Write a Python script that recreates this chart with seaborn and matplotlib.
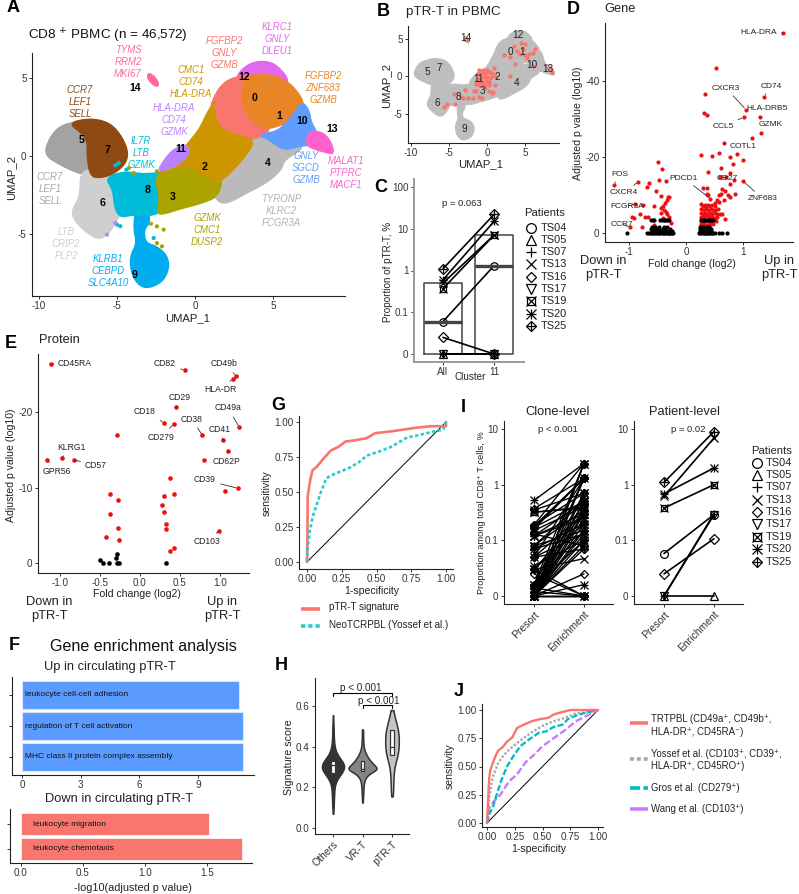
import numpy as np
import pandas as pd
import matplotlib
matplotlib.use("Agg")
import matplotlib.pyplot as plt
import seaborn as sns

W, H = 799, 894
sns.set_theme(style="ticks", rc={
    "axes.linewidth": 0.8, "axes.edgecolor": "#222222",
    "xtick.major.size": 2.4, "ytick.major.size": 2.4,
    "xtick.major.width": 0.7, "ytick.major.width": 0.7,
    "xtick.major.pad": 1.5, "ytick.major.pad": 1.5,
    "xtick.labelsize": 7.1, "ytick.labelsize": 7.1,
    "xtick.color": "#333333", "ytick.color": "#333333",
    "axes.unicode_minus": False,
})
plt.rcParams["font.family"] = ["Liberation Sans", "DejaVu Sans"]

# ---- cluster outlines in UMAP units, listed back to front ----
CLUSTER_5 = [(-9.59, .51), (-9.06, 1.58), (-8.21, 2.12), (-6.6, 2.25), (-5.5, 1), (-6.0, -.9), (-7.03, -1.2),
             (-7.78, -.98), (-8.85, -.45), (-9.49, -.02)]
CLUSTER_6 = [(-7.35, -.9), (-6, -.9), (-4.5, -1.5), (-4.4, -3.5), (-4.79, -3.65), (-5.32, -4.72), (-6.07, -5.4),
             (-6.92, -4.94), (-7.78, -4.08), (-7.88, -3.44), (-7.35, -2.59)]
CLUSTER_7 = [(-8.1, 2.12), (-6.82, 2.4), (-5.64, 2.2), (-4.89, 1.55), (-4.3, .41), (-4.4, -.45), (-5.21, -1.15),
             (-6.07, -1.4), (-6.71, -1.3), (-6.92, -.02), (-6.88, .94), (-7.3, 1.5)]
CLUSTER_9 = [(-3.82, -3.4), (-2.97, -3.4), (-2.9, -4.29), (-3.29, -4.72), (-3.18, -5.58), (-2.44, -5.79), (-1.75, -6.43),
             (-1.68, -7.29), (-2.12, -8.1), (-3.08, -8.5), (-3.7, -8.2), (-4.1, -7.39), (-4.15, -6.43), (-3.72, -5.58),
             (-3.93, -4.72)]
CLUSTER_8 = [(-5.75, -1.41), (-4.57, -.98), (-3.08, -1.2), (-1.5, -.9), (-1.3, -3), (-2.54, -3.78), (-3.29, -3.8),
             (-3.93, -3.75), (-4.79, -3.95), (-5.15, -3.33), (-5.25, -2.16)]
CLUSTER_4 = [(3.0, 1.3), (4.62, 1.6), (5.68, 1.2), (7.18, .62), (5.7, -.24), (5.55, -.88), (4.62, -1.7), (3.33, -2.35),
             (2.48, -2.85), (1.62, -3.1), (1.0, -2.2), (1.2, -.3)]
CLUSTER_12 = [(2.48, 4.6), (2.91, 5.5), (3.76, 6.05), (4.83, 6.05), (5.5, 5.55), (6.0, 4.89), (5.68, 4.4), (3, 4.4)]
CLUSTER_0 = [(.88, 2.54), (1.15, 3.7), (1.84, 4.75), (2.91, 5.15), (4.4, 5.2), (5, 3), (4.8, 1.5), (3.6, 1.0),
             (1.5, 1.0), (.6, 1.5), (.66, 2.12)]
CLUSTER_1 = [(3.12, 5.1), (4.62, 5.25), (5.78, 4.9), (6.55, 4.15), (6.98, 3.4), (6.85, 2.65), (5.9, 2.12), (4.62, 1.7),
             (3.97, 2.01), (3.23, 2.76), (3.01, 3.61)]
CLUSTER_10 = [(6.32, 2.65), (6.86, 3.5), (7.3, 2.97), (7.45, 2.12), (7.8, 1.58), (7.6, .7), (6.75, .65), (5.68, .35),
              (4.83, 1.0), (4.0, 1.37), (5.26, 1.55), (5.9, 2.2)]
CLUSTER_13 = [(7.29, 1.6), (8.1, 1.55), (8.65, 1.05), (8.95, .1), (8.35, .25), (7.61, .45), (7.1, .73)]
CLUSTER_3 = [(-2.65, -1.3), (-1.15, -.5), (.34, -.3), (1.8, -1.2), (1.5, -2.6), (.34, -3.05), (-.94, -3.38),
             (-2.01, -3.72), (-2.44, -3.7), (-2.22, -2.59)]
CLUSTER_2 = [(-.51, .73), (.34, 1.79), (.77, 2.76), (1.2, 3.4), (1.41, 1.9), (2.48, 1.37), (3.76, 1.05), (3.55, .41),
             (2.48, -.88), (1.62, -1.62), (1.2, -1.62), (-.51, -.45), (-1.79, -.98), (-2.44, -1.09), (-1.15, -.02)]
CLUSTER_11 = [(-2.4, -1.0), (-2.01, -.3), (-1.37, .45), (-.51, .78), (-.3, .19), (-.94, -.45), (-1.58, -.8)]
CLUSTER_14 = [(-3.0, 5.35), (-2.54, 5.05), (-2.3, 4.55), (-2.54, 4.45), (-3.05, 4.95)]
cluster_outlines = [CLUSTER_5, CLUSTER_6, CLUSTER_7, CLUSTER_9, CLUSTER_8, CLUSTER_4, CLUSTER_12, CLUSTER_0, CLUSTER_1,
                    CLUSTER_10, CLUSTER_13, CLUSTER_3, CLUSTER_2, CLUSTER_11, CLUSTER_14]
cluster_colors = ["#A3A3A3", "#CFCFCF", "#8E4A12", "#00AEF0", "#00BCD8", "#BABABA", "#E468EE", "#F8766D", "#E88526",
                  "#619CFF", "#FF61CC", "#ABA300", "#CD9600", "#B983FF", "#FF6A98"]
stray_x = [-2.01, -2.44, -2.82, -2.12, -2.44, -3.93, -4.25, -2.44, 1.2, -4.89, -5.11, -4.4, -4.79, -5.0, -2.65, -5.11, -5.64]
stray_y = [-4.72, -4.51, -4.34, -5.79, -5.58, -1.09, -.77, -.98, 3.4, -.45, -.6, -.88, -4.5, -4.4, -5.26, -4.29, -5.04]
stray_color = ["#ABA300"] * 8 + ["#CD9600"] + ["#00BCD8"] * 6 + ["#B983FF"] * 2

# ---- gene labels on the UMAP ----
gene_text = ["TYMS\nRRM2\nMKI67", "FGFBP2\nGNLY\nGZMB", "KLRC1\nGNLY\nDLEU1", "CMC1\nCD74\nHLA-DRA",
             "FGFBP2\nZNF683\nGZMB", "CCR7\nLEF1\nSELL", "HLA-DRA\nCD74\nGZMK", "IL7R\nLTB\nGZMK",
             "CCR7\nLEF1\nSELL", "GNLY\nSGCD\nGZMB", "MALAT1\nPTPRC\nMACF1", "TYRONP\nKLRC2\nFCGR3A",
             "GZMK\nCMC1\nDUSP2", "LTB\nCRIP2\nPLP2", "KLRB1\nCEBPD\nSLC4A10"]
gene_color = ["#FF6A98", "#F8766D", "#E468EE", "#CD9600", "#E88526", "#8E4A12", "#B983FF", "#00BCD8",
              "#A9A9A9", "#619CFF", "#FF61CC", "#B0B0B0", "#ABA300", "#CFCFCF", "#00AEF0"]
gene_px = [(128, 62), (224, 53), (277, 39), (191, 82), (323, 88), (80, 102), (174, 120), (141, 153),
           (50, 189), (306, 168), (346, 173), (281, 211), (207, 230), (66, 244), (108, 271)]
cluster_ids = ["0", "1", "2", "3", "4", "5", "6", "7", "8", "9", "10", "11", "12", "13", "14"]
id_px_a = [(255, 98), (279, 116), (204, 167), (173, 197), (268, 163), (82, 140), (103, 203), (107, 150),
           (148, 190), (135, 275), (302, 121), (181, 149), (244, 77), (332, 129), (135, 88)]
id_px_b = [(510, 52), (522, 52), (497, 77), (482, 91), (517, 83), (427, 72), (437, 103), (439, 68),
           (458, 97), (464, 129), (532, 65), (479, 79), (518, 35), (548, 69), (466, 38)]

# ---- pTR-T cells on the UMAP ----
ptrt_umap_x = [-5.6, -5.3, -4.3, -4.2, -3.4, -2.9, -3.2, -2.5, -1.9, -1.7, -1.4, -1.0, -.6, -.3, .2, .8, 1.0, .6, -1.1, -.8,
               -.4, 0, .4, .7, -1.3, -.9, -.5, 0, .3, -1.5, -1.0, -.6, -.2, .2, .6, -1.2, -.7, -.3, .2, -1.0, -.5, 0,
               .9, 1.0, 3.0, 2.3, 3.0, 3.6, 3.9, 4.5, 5.0, 4.4, 5.0, 5.5, 6.0, 6.3, 3.7, 6.0, 8.2, 8.5, -2.9, -2.6, 5.3, 4.8]
ptrt_umap_y = [-4.1, -3.7, -2.3, -3.7, -2.8, -1.8, -2.9, -2.9, -2.9, -2.0, -1.9, -2.8, -2.9, -1.5, -1.9, -2.1, -1.2, -2.2, -.3,
               -.2, -.1, -.1, -.2, .1, -.7, -.8, -.7, -.6, -.7, -1.0, -1.2, -1.2, -1.1, -1.2, .5, .3, .4, .5, .6, .9, .9, .8,
               1.1, .0, .1, 2.8, 2.6, 4.0, 3.4, 4.4, 4.3, 3.0, 2.9, 3.0, 3.1, 3.6, 1.7, 1.4, 1.1, .6, 5.0, 4.8, 2.5, 3.6]

# ---- per-patient proportions ----
patients = ["TS04", "TS05", "TS07", "TS13", "TS16", "TS17", "TS19", "TS20", "TS25"]
patient_markers = {"TS04": ["o"], "TS05": ["^"], "TS07": ["+"], "TS13": ["x"], "TS16": ["D"], "TS17": ["v"],
                   "TS19": ["s", "x"], "TS20": ["+", "x"], "TS25": ["D", "+"]}
cluster_all = [.06, 0, 0, .5, .025, 0, .37, .6, 1.1]
cluster_11 = [1.3, 0, 0, 7, 0, 0, 7, 15, 22]
patient_presort = [.058, 0, 0, .62, .025, 0, .38, .68, 1.1]
patient_enrich = [.29, 0, .3, 6.9, .107, .29, 1.0, 2.0, 9.0]

clone_presort = [.52, .37, .35, .32, .32, .19, .18, .17, .16, .15, .13, .12, .12, .08, .08, .07, .07, .05, .05, .05, .035, .03,
                 .03, .03, .025, .016, .016, .015, .015, .014, .014, 0, 0, 0, 0, 0, 0, 0, 0, 0, 0, 0, 0, 0, 0, 0, 0, .012,
                 .19, .17, .12, .08, .05, .03, .016, .014, 0, 0, 0, 0]
clone_enrich = [2.4, 1.3, .7, .38, .4, 2.4, 1.3, .5, 1.3, .4, .08, .3, .25, .5, .15, .13, .2, .13, 1.3, .07, .1, .047,
                0, .3, 0, 2.4, .7, 1.3, .3, 0, .5, 2.4, 1.3, .7, .5, .4, .3, .25, .2, .15, .13, .1, .08, .07, .025, 0, 0, 0,
                .7, 1.3, .5, .35, .3, .2, .15, .1, 2.4, 1.3, .016, 0]
clone_patient = ["TS20", "TS25", "TS20", "TS19", "TS19", "TS25", "TS25", "TS25", "TS20", "TS20", "TS25", "TS20", "TS20", "TS19",
                 "TS20", "TS20", "TS25", "TS07", "TS25", "TS25", "TS20", "TS13", "TS25", "TS20", "TS16", "TS20", "TS25", "TS25",
                 "TS25", "TS20", "TS20", "TS25", "TS25", "TS20", "TS19", "TS19", "TS20", "TS20", "TS20", "TS25", "TS20", "TS25",
                 "TS25", "TS25", "TS16", "TS20", "TS25", "TS25", "TS25", "TS25", "TS20", "TS19", "TS20", "TS25", "TS20", "TS25",
                 "TS25", "TS25", "TS20", "TS25"]

# ---- gene volcano (log2 fold change, log10 adjusted p) ----
gene_named = ["HLA-DRA", "FOS", "CXCR4", "FCGR3A", "CCR7", "PDCD1", "CD27", "ZNF683", "COTL1", "CCL5", "GZMK", "HLA-DRB5", "CXCR3", "CD74"]
gene_named_fc = [1.70, -1.27, -.84, -.89, -.98, .42, .6, 1.0, .67, 1.01, 1.32, 1.29, 1.05, 1.37]
gene_named_p = [-52.6, -12.5, -13.4, -7.5, -1.4, -9.0, -14.6, -13.6, -23.5, -30.4, -26.3, -30.4, -32.4, -35.8]
gene_named_px = [(759, 33), (620, 174), (624, 193), (627, 206), (622, 224), (684, 178), (727, 178), (763, 199),
                 (743, 146), (723, 127), (771, 125), (767, 109), (726, 88), (771, 86)]
gene_up_fc = [.53, .33, .31, .36, 1.16, .58, .26, .46, .78, .9, 1.0, .83, .62, .39, .78, .7, .85, .78, .63, .68, .61, .58, .74, .86, .77, .66,
              .54, .51, .58, .37, .29, .39, .36, -.3, .26, .3, .34, .38, .42, .46, .5, .27, .31, .35, .39, .43, .47, .51, .56, .26, .3, .34, .38, .42,
              .46, .5, .54, .6, .64, .26, .3, .35, .4, .45, .5, .55, .26, .31, .36, .41, .46, .52, .68, .27, .32, .37, .42, .47, .26, .31, .36, .41]
gene_up_p = [-43.3, -36.4, -31.5, -31.1, -24.8, -21, -20.4, -20.2, -20, -20.8, -19.1, -18.2, -17, -16.1, -15.8, -14.7, -13.9, -12.8, -11.4, -11, -10.3, -9.9,
             -9.9, -10.2, -9.5, -8.6, -8.6, -7.9, -8.2, -11.7, -11.7, -9.9, -10.2, -9.3, -7.5, -7, -7.4, -7.2, -7, -7.3, -7, -6.2, -6, -6.4, -6, -6.3, -6, -6.1, -6.2,
             -5.2, -5, -5.3, -5, -5.3, -5, -5.2, -5, -5, -4.8, -4.2, -4.1, -4.3, -4.1, -4.2, -4, -4.2, -3.2, -3.1, -3.1, -3.2, -3, -3, -3.6, -2.3, -2.2, -2.1, -2.3, -2.2,
             -1.4, -1.5, -1.4, -1.5]
gene_down_fc = [-.65, -.69, -.5, -.42, -.47, -.35, -.53, -.43, -.56, -.76, -.8, -.94, -.92, -.72, -.66, -.78, -.31, -.34, -.37, -.4, -.43, -.39,
                -.35, -.33, -.43, -.29, -.31, -.26, -.57, -.37, -.4]
gene_down_p = [-13.2, -11.9, -18.6, -16.8, -13.9, -13.6, -10.9, -9.6, -7, -7.4, -4.9, -4.2, -3.9, -4.2, -4.2, -1.4, -9.3, -8.6, -7.7, -7, -6.4, -6,
               -5.5, -4.9, -5.1, -4.2, -3.3, -2.5, -2, -3.3, -4]
gene_ns_fc = [-1.04, -.68, -.65, -.62, -.6, -.58, -.55, -.52, -.5, -.47, -.45, -.42, -.4, -.38, -.36, -.34, -.32, -.3, -.28, -.26, -.24, -.22,
              .23, .25, .27, .29, .31, .33, .35, .37, .39, .41, .43, .45, .47, .5, .58, .64, .72,
              -.6, -.55, -.5, -.45, -.4, -.35, -.3, -.25, .24, .28, .32, .36, .4, .44,
              -.62, -.58, -.52, -.47, -.41, -.37, -.28, .25, .3, .34, .39, .43,
              -.6, -.55, -.47, -.38, -.33, .25, .3, .36, .41,
              -.61, -.58, -.56, -.45, -.42, -.39, -.36, -.33, -.3, .26, .29, .32, .35, .38, .41, .44, .47]
gene_ns_p = [0] * 39 + [-.5] * 14 + [-1] * 12 + [-1.6] * 9 + [-3.3] * 17

# ---- protein volcano ----
prot_named = ["CD45RA", "CD82", "CD49b", "HLA-DR", "CD29", "CD18", "CD279", "CD49a", "CD38", "CD41", "CD62P", "KLRG1", "CD57", "GPR56", "CD39", "CD103"]
prot_named_fc = [-1.11, .56, 1.2, 1.16, .45, .3, .42, 1.24, .78, 1.04, 1.1, -.98, -.83, -1.16, 1.22, .99]
prot_named_p = [-26.4, -25.5, -24.8, -24.4, -20.6, -18.6, -18.4, -18, -16.9, -16.3, -14.9, -13.9, -13.7, -13.6, -9.9, -4.3]
prot_named_px = [(75, 364), (165, 363), (224, 364), (220, 390), (180, 397), (145, 412), (161, 437), (228, 408), (192, 419),
                 (220, 429), (227, 461), (71, 447), (96, 466), (57, 471), (205, 480), (207, 542)]
prot_sig_fc = [-.29, .8, .37, 1.06, -.38, .43, .3, -.28, .27, .3, -.375, .32, .33, -.275, -.42, -.26, .42, .37]
prot_sig_p = [-16.9, -13.6, -11.3, -9.6, -9.2, -9.2, -8.9, -8.3, -7.7, -6.7, -6.5, -5.2, -4.5, -4.6, -3.4, -3.1, -2, -1.6]
prot_ns_fc = [-.29, -.295, -.5, -.46, -.39, -.29, -.26, .33]
prot_ns_p = [-1.2, -.6, -.4, 0, 0, 0, 0, 0]

# ---- enrichment terms ----
up_terms = ["leukocyte cell-cell adhesion", "regulation of T cell activation", "MHC class II protein complex assembly"]
up_scores = [11.08, 11.28, 11.3]
down_terms = ["leukocyte migration", "leukocyte chemotaxis"]
down_scores = [1.52, 1.78]

# ---- ROC curves ----
sig_fpr = [0, .003, .005, .024, .04, .07, .12, .17, .23, .275, .35, .43, .49, .62, .77, .89, 1, 1]
sig_tpr = [0, .18, .47, .59, .655, .68, .74, .795, .825, .86, .87, .885, .92, .935, .957, .97, .97, 1]
neo_fpr = [0, .005, .02, .04, .07, .1, .14, .2, .3, .37, .43, .52, .6, .67, .72, .8, .9, .98, 1]
neo_tpr = [0, .1, .22, .32, .41, .5, .6, .63, .67, .71, .76, .79, .82, .86, .89, .905, .93, .945, 1]
trt_fpr = [0, .01, .02, .03, .06, .08, .1, .14, .18, .23, .27, .33, .4, .48, .55, .6, .67, .75, 1]
trt_tpr = [0, .2, .4, .47, .55, .6, .64, .67, .72, .76, .84, .87, .9, .92, .93, .96, .98, 1, 1]
yos_fpr = [0, .02, .05, .1, .15, .2, .3, .4, .5, .6, .7, .8, .9, 1]
yos_tpr = [0, .22, .4, .53, .6, .65, .73, .8, .86, .9, .93, .97, .98, 1]
gro_fpr = [0, .02, .05, .08, .13, .18, .23, .3, .38, .47, .53, .6, .68, .73, .8, .9, 1]
gro_tpr = [0, .08, .13, .23, .38, .5, .58, .68, .74, .8, .81, .85, .87, .92, .95, .98, 1]
wan_fpr = [0, .02, .06, .12, .2, .27, .35, .42, .5, .6, .7, .8, .9, 1]
wan_tpr = [0, .13, .19, .25, .37, .43, .54, .6, .68, .75, .82, .9, .95, 1]

# ---- signature score histograms behind the violins ----
others_levels = [.07, .09, .11, .13, .15, .17, .19, .21, .23, .25, .27, .29, .31, .33, .35, .37, .39, .41, .43, .45, .47, .49, .51, .53, .555]
others_counts = [2, 3, 4, 5, 6, 7, 8, 11, 18, 32, 52, 66, 70, 54, 34, 20, 12, 8, 6, 5, 4, 4, 3, 2, 2]
vrt_levels = [.125, .15, .17, .19, .21, .23, .25, .27, .29, .31, .33, .35, .37, .39, .41, .43, .45, .47, .485]
vrt_counts = [2, 3, 4, 5, 6, 9, 17, 38, 85, 60, 40, 26, 15, 8, 5, 4, 3, 3, 2]
ptrt_levels = [.155, .20, .24, .28, .32, .36, .40, .44, .48, .52, .56, .58]
ptrt_counts = [2, 3, 3, 4, 7, 13, 15, 15, 14, 9, 4, 1]
violin_groups = ["Others", "VR-T", "pTR-T"]
violin_colors = ["#333333", "#858585", "#C4C4C4"]
violin_widths = [0.75, 0.95, 0.46]


def rounded(outline, passes=3):
    """Corner-cut a closed outline so its drawn edge is smooth."""
    pts = np.asarray(outline, dtype=float)
    for _ in range(passes):
        nxt = np.roll(pts, -1, axis=0)
        pts = np.column_stack([0.75 * pts + 0.25 * nxt, 0.25 * pts + 0.75 * nxt]).reshape(-1, 2)
    return pts


fig = plt.figure(figsize=(W / 100, H / 100), dpi=100)
sheet = fig.add_axes([0, 0, 1, 1], zorder=10)
sheet.set_xlim(0, W)
sheet.set_ylim(H, 0)
sheet.axis("off")
sheet.patch.set_alpha(0)
axis_limits = []


def panel(left, top, right, bottom, xcal, ycal):
    """Axes placed in pixels; each cal is (value0, pixel0, value1, pixel1)."""
    ax = fig.add_axes([left / W, 1 - bottom / H, (right - left) / W, (bottom - top) / H])
    def lim(cal, a, b):
        v0, p0, v1, p1 = cal
        k = (v1 - v0) / (p1 - p0)
        return v0 + (a - p0) * k, v0 + (b - p0) * k
    axis_limits.append((ax, lim(xcal, left, right), lim(ycal, bottom, top)))
    sns.despine(ax=ax)
    return ax


def note(x, y, s, size=7.1, ha="center", va="center", **kw):
    sheet.text(x, y, s, fontsize=size, ha=ha, va=va, **kw)


def axis_titles(ax, xtext, xpos, ytext, ypos, size=8.1):
    if xtext:
        ax.set_xlabel(xtext, fontsize=size, va="center", ha="center", color="#222222")
        ax.xaxis.set_label_coords(xpos[0], xpos[1], transform=sheet.transData)
    else:
        ax.set_xlabel("")
    if ytext:
        ax.set_ylabel(ytext, fontsize=size, va="center", ha="center", color="#222222")
        ax.yaxis.set_label_coords(ypos[0], ypos[1], transform=sheet.transData)
    else:
        ax.set_ylabel("")


def pseudo_log(values):
    """Log10 scale with zero pinned one decade below 0.1."""
    return np.log10(np.maximum(np.asarray(values, dtype=float), 0.01))


def patient_line(ax, xs, ys, patient, ms=5.4, lw=1.1, mew=0.9):
    sns.lineplot(x=xs, y=ys, ax=ax, color="black", lw=lw, estimator=None, sort=False, legend=False)
    for m in patient_markers[patient]:
        size = ms * 0.85 if m in ("D", "s") else ms
        sns.lineplot(x=xs, y=ys, ax=ax, estimator=None, sort=False, legend=False, linestyle="", color="black",
                     marker=m, mfc="none", mec="black", mew=mew, ms=size)


def patient_key(title_xy, marker_x, label_x, rows):
    note(title_xy[0], title_xy[1], "Patients", size=8.1, ha="center", color="#222222")
    for p, y in zip(patients, rows):
        for m in patient_markers[p]:
            size = 5.6 if m in ("D", "s") else 7.0
            sheet.plot([marker_x], [y], marker=m, mfc="none", mec="black", mew=0.9, ms=size, ls="")
        note(label_x, y, p, size=7.9, ha="left", color="#222222")


def volcano_labels(ax, names, xs, ys, spots, size):
    for name, x, y, spot in zip(names, xs, ys, spots):
        ax.annotate(name, xy=(x, y), xytext=spot, textcoords=sheet.transData, fontsize=size, ha="center", va="center",
                    color="#222222", annotation_clip=False,
                    arrowprops=dict(arrowstyle="-", lw=0.55, color="#222222", shrinkA=1, shrinkB=1.5))


# A: UMAP coloured by cluster
ax = panel(32, 53, 345, 296, (-10, 39, 5, 273), (-5, 234, 5, 78))
for outline, colour in zip(cluster_outlines, cluster_colors):
    ax.fill(*rounded(outline).T, color=colour, lw=1.2, joinstyle="round")
sns.scatterplot(x=stray_x, y=stray_y, hue=stray_color, palette={c: c for c in set(stray_color)}, s=9, linewidth=0, ax=ax, legend=False)
ax.set_xticks([-10, -5, 0, 5], ["-10", "-5", "0", "5"])
ax.set_yticks([-5, 0, 5], ["-5", "0", "5"])
axis_titles(ax, "UMAP_1", (188, 318), "UMAP_2", (11, 177))
note(108, 36, r"CD8 $^{+}$ PBMC (n = 46,572)", size=9.7, color="#111111")
for s, c, (x, y) in zip(gene_text, gene_color, gene_px):
    note(x, y, s, size=6.9, color=c, style="italic", linespacing=1.22)
for s, (x, y) in zip(cluster_ids, id_px_a):
    note(x, y, s, size=7.6, weight="bold", color="black")

# B: pTR-T cells over the grey UMAP
ax = panel(408, 26, 559, 143, (-10, 411, 5, 525), (-5, 114, 5, 38.7))
for outline in cluster_outlines:
    ax.fill(*rounded(outline).T, color="#BEBEBE", lw=1.0, joinstyle="round")
sns.scatterplot(x=ptrt_umap_x, y=ptrt_umap_y, color="#F8766D", s=10, linewidth=0, ax=ax, legend=False)
ax.set_xticks([-10, -5, 0, 5], ["-10", "-5", "0", "5"])
ax.set_yticks([-5, 0, 5], ["-5", "0", "5"])
axis_titles(ax, "UMAP_1", (481, 164), "UMAP_2", (386, 85))
note(453, 12, "pTR-T in PBMC", size=9.6, color="#222222")
for s, (x, y) in zip(cluster_ids, id_px_b):
    note(x, y, s, size=7.2, color="#222222")

# C: proportion of pTR-T per patient, overall and within cluster 11
ax = panel(414, 179, 524, 362, (0, 443, 1, 494), (-2, 354, 2, 187))
box_df = pd.DataFrame({"cluster": ["All"] * 9 + ["11"] * 9, "value": pseudo_log(cluster_all + cluster_11)})
sns.boxplot(data=box_df, x="cluster", y="value", order=["All", "11"], width=0.75, fill=False, color="#444444",
            linewidth=1.1, whis=0, showcaps=False, showfliers=False, medianprops=dict(lw=2.4), ax=ax)
for p, a, b in zip(patients, cluster_all, cluster_11):
    patient_line(ax, [0, 1], pseudo_log([a, b]), p, lw=1.2)
ax.set_xticks([0, 1], ["All", "11"])
ax.set_yticks(pseudo_log([0, .1, 1, 10, 100]), ["0", "0.1", "1", "10", "100"])
for side in ("left", "bottom"):
    ax.spines[side].set_color("#999999")
    ax.spines[side].set_linewidth(1.4)
axis_titles(ax, "Cluster", (470, 377), "Proportion of pTR-T, %", (388, 272), size=7.1)
note(462, 204, "p = 0.063", size=6.8, color="#222222")
patient_key((545, 213), 531, 541, [228, 240, 252, 264, 277, 289, 301, 314, 326])

# D: gene volcano
ax = panel(605, 23, 793, 242, (-1, 629, 1, 743), (0, 232.7, -40, 80.7))
sns.scatterplot(x=gene_named_fc + gene_up_fc + gene_down_fc, y=gene_named_p + gene_up_p + gene_down_p, color="#EE1010", s=9, linewidth=0, ax=ax, legend=False)
sns.scatterplot(x=gene_ns_fc, y=gene_ns_p, color="black", s=9, linewidth=0, ax=ax, legend=False)
volcano_labels(ax, gene_named, gene_named_fc, gene_named_p, gene_named_px, 6.0)
ax.set_xticks([-1, 0, 1], ["-1", "0", "1"])
ax.set_yticks([0, -20, -40], ["0", "-20", "-40"])
axis_titles(ax, "Fold change (log2)", (692, 264), "Adjusted p value (log10)", (578, 123), size=7.6)
note(620, 9, "Gene", size=9.3, color="#222222")
note(603, 268, "Down in\npTR-T", size=9.3, color="#222222", linespacing=1.2)
note(779, 268, "Up in\npTR-T", size=9.3, color="#222222", linespacing=1.2)

# E: protein volcano
ax = panel(38, 354, 249, 573, (-1, 60, 1, 220), (0, 563, -20, 412))
sns.scatterplot(x=prot_named_fc + prot_sig_fc, y=prot_named_p + prot_sig_p, color="#EE1010", s=11, linewidth=0, ax=ax, legend=False)
sns.scatterplot(x=prot_ns_fc, y=prot_ns_p, color="black", s=11, linewidth=0, ax=ax, legend=False)
volcano_labels(ax, prot_named, prot_named_fc, prot_named_p, prot_named_px, 6.2)
ax.set_xticks([-1, -.5, 0, .5, 1], ["-1.0", "-0.5", "0.0", "0.5", "1.0"])
ax.set_yticks([0, -10, -20], ["0", "-10", "-20"])
axis_titles(ax, "Fold change (log2)", (137, 594), "Adjusted p value (log10)", (11, 465), size=7.6)
note(59, 340, "Protein", size=9.3, color="#222222")
note(49, 609, "Down in\npTR-T", size=9.3, color="#222222", linespacing=1.2)
note(222, 609, "Up in\npTR-T", size=9.3, color="#222222", linespacing=1.2)

# F: enrichment bars
ax = panel(12, 677, 254, 775, (0, 22, 9, 198), (0, 695, 1, 726))
sns.barplot(x=up_scores, y=up_terms, orient="h", color="#5B9BFF", saturation=1, width=0.92, edgecolor="#D6E4FF", linewidth=0.8, ax=ax)
ax.set_xticks([0, 3, 6, 9], ["0", "3", "6", "9"])
ax.set_yticks([0, 1, 2], ["", "", ""])
for i, term in enumerate(up_terms):
    ax.text(0.14, i, term, fontsize=6.0, va="center", color="#111111")
axis_titles(ax, "", None, "", None)
ax = panel(10, 809, 252, 863, (0, 21, 1.5, 207), (0, 824, 1, 849))
sns.barplot(x=down_scores, y=down_terms, orient="h", color="#F8766D", saturation=1, width=0.9, edgecolor="white", linewidth=0.5, ax=ax)
ax.set_xticks([0, .5, 1, 1.5], ["0.0", "0.5", "1.0", "1.5"])
ax.set_yticks([0, 1], ["", ""])
for i, term in enumerate(down_terms):
    ax.text(0.1, i, term, fontsize=6.0, va="center", color="#111111")
axis_titles(ax, "-log10(adjusted p value)", (133, 888), "", None, size=7.8)
note(143, 647, "Gene enrichment analysis", size=11.6, color="#111111")
note(110, 667, "Up in circulating pTR-T", size=9.3, color="#222222")
note(119, 799, "Down in circulating pTR-T", size=9.3, color="#222222")

# G: ROC of the signature
ax = panel(299, 416, 453, 569, (0, 307, 1, 446), (0, 562, 1, 422))
sns.lineplot(x=[0, 1], y=[0, 1], color="black", lw=0.7, ax=ax, legend=False)
sns.lineplot(x=sig_fpr, y=sig_tpr, color="#F8766D", lw=1.9, estimator=None, sort=False, ax=ax, legend=False)
sns.lineplot(x=neo_fpr, y=neo_tpr, color="#2BCBD2", lw=1.9, estimator=None, sort=False, linestyle=(0, (1.3, 0.9)), ax=ax, legend=False)
ax.set_xticks([0, .25, .5, .75, 1], ["0.00", "0.25", "0.50", "0.75", "1.00"])
ax.set_yticks([0, .25, .5, .75, 1], ["0.00", "0.25", "0.50", "0.75", "1.00"])
axis_titles(ax, "1-specificity", (372, 591), "sensitivity", (267, 493), size=7.6)
sheet.plot([301, 320], [609, 609], color="#F8766D", lw=2.6, solid_capstyle="butt")
sheet.plot([301, 320], [626, 626], color="#2BCBD2", lw=2.6, ls=(0, (1.2, 0.8)))
note(329, 607, "pTR-T signature", size=7.0, ha="left", color="#222222")
note(329, 625, "NeoTCRPBL (Yossef et al.)", size=7.1, ha="left", color="#222222")

# H: signature score violins
ax = panel(315, 678, 409, 834, (0, 333, 2, 392), (0, 828, .6, 706))
score_df = pd.DataFrame({
    "group": ["Others"] * sum(others_counts) + ["VR-T"] * sum(vrt_counts) + ["pTR-T"] * sum(ptrt_counts),
    "score": np.concatenate([np.repeat(others_levels, others_counts), np.repeat(vrt_levels, vrt_counts), np.repeat(ptrt_levels, ptrt_counts)]),
})
for group, colour, width in zip(violin_groups, violin_colors, violin_widths):
    sns.violinplot(data=score_df[score_df["group"] == group], x="group", y="score", order=violin_groups, color=colour,
                   saturation=1, density_norm="width", cut=0, bw_adjust=0.75, width=width, inner=None, linewidth=1.1,
                   linecolor="#333333", legend=False, ax=ax)
sns.boxplot(data=score_df, x="group", y="score", order=violin_groups, width=0.13, color="white", linecolor="#333333", linewidth=0.9,
            whis=0, showcaps=False, showfliers=False, ax=ax)
ax.set_yticks([0, .2, .4, .6], ["0.0", "0.2", "0.4", "0.6"])
ax.set_xticks([0, 1, 2], violin_groups)
ax.tick_params(axis="x", labelsize=7.5)
plt.setp(ax.get_xticklabels(), rotation=45, ha="right", rotation_mode="anchor")
sns.lineplot(x=[0, 0, 2, 2], y=[.648, .665, .665, .648], color="black", lw=0.8, estimator=None, sort=False, ax=ax, legend=False)
sns.lineplot(x=[1, 1, 2, 2], y=[.59, .606, .606, .59], color="black", lw=0.8, estimator=None, sort=False, ax=ax, legend=False)
axis_titles(ax, "", None, "Signature score", (289, 757), size=7.7)
note(361, 688, "p < 0.001", size=7.1, color="#222222")
note(379, 701, "p < 0.001", size=7.1, color="#222222")

# I: clone-level and patient-level proportions
ax = panel(504, 421, 613, 604, (0, 534, 1, 584), (-2, 596, 1, 429))
for p, a, b in zip(clone_patient, clone_presort, clone_enrich):
    patient_line(ax, [0, 1], pseudo_log([a, b]), p, ms=5.2, lw=1.0)
ax.set_xticks([0, 1], ["Presort", "Enrichment"])
ax.set_yticks(pseudo_log([0, .1, 1, 10]), ["0", "0.1", "1", "10"])
ax.tick_params(axis="x", labelsize=7.5)
plt.setp(ax.get_xticklabels(), rotation=45, ha="right", rotation_mode="anchor")
axis_titles(ax, "", None, "Proportion among total CD8\u207a T cells, %", (482, 513), size=6.7)
note(558, 412, "Clone-level", size=9.3, color="#222222")
note(558, 429, "p < 0.001", size=6.8, color="#222222")
ax = panel(634, 421, 743, 604, (0, 664, 1, 714), (-2, 596, 1, 429))
for p, a, b in zip(patients, patient_presort, patient_enrich):
    patient_line(ax, [0, 1], pseudo_log([a, b]), p, ms=5.6, lw=1.2)
ax.set_xticks([0, 1], ["Presort", "Enrichment"])
ax.set_yticks(pseudo_log([0, .1, 1, 10]), ["0", "0.1", "1", "10"])
ax.tick_params(axis="x", labelsize=7.5)
plt.setp(ax.get_xticklabels(), rotation=45, ha="right", rotation_mode="anchor")
axis_titles(ax, "", None, "", None)
note(684, 412, "Patient-level", size=9.3, color="#222222")
note(688, 429, "p = 0.02", size=6.8, color="#222222")
patient_key((772, 451), 757, 766, [463, 475, 487, 500, 512, 524, 537, 549, 562])

# J: ROC of the surface-marker gates
ax = panel(482, 704, 603, 827, (0, 487, 1, 598), (0, 823, 1, 710))
sns.lineplot(x=[0, 1], y=[0, 1], color="black", lw=0.7, ax=ax, legend=False)
sns.lineplot(x=wan_fpr, y=wan_tpr, color="#C77CFF", lw=1.7, linestyle=(0, (3, 1.2)), estimator=None, sort=False, ax=ax, legend=False)
sns.lineplot(x=yos_fpr, y=yos_tpr, color="#A9A9A9", lw=1.7, linestyle=(0, (1, 0.8)), estimator=None, sort=False, ax=ax, legend=False)
sns.lineplot(x=gro_fpr, y=gro_tpr, color="#00BFC4", lw=1.7, linestyle=(0, (2.6, 1)), estimator=None, sort=False, ax=ax, legend=False)
sns.lineplot(x=trt_fpr, y=trt_tpr, color="#F8766D", lw=1.7, estimator=None, sort=False, ax=ax, legend=False)
ax.set_xticks([0, .25, .5, .75, 1], ["0.00", "0.25", "0.50", "0.75", "1.00"])
ax.set_yticks([0, .25, .5, .75, 1], ["0.00", "0.25", "0.50", "0.75", "1.00"])
axis_titles(ax, "1-specificity", (539, 849), "sensitivity", (450, 766), size=7.6)
sheet.plot([630, 648], [723, 723], color="#F8766D", lw=2.6, solid_capstyle="butt")
sheet.plot([630, 648], [759, 759], color="#A9A9A9", lw=2.6, ls=(0, (1.1, 0.8)))
sheet.plot([630, 648], [788, 788], color="#00BFC4", lw=2.6, ls=(0, (2.8, 0.9)))
sheet.plot([630, 648], [809, 809], color="#C77CFF", lw=2.6, solid_capstyle="butt")
note(651, 725.5, "TRTPBL (CD49a\u207a, CD49b\u207a,\nHLA-DR\u207a, CD45RA\u207b)", size=6.9, ha="left", color="#222222", linespacing=1.3)
note(651, 760, "Yossef et al. (CD103\u207a, CD39\u207a,\nHLA-DR\u207a, CD45RO\u207a)", size=6.9, ha="left", color="#222222", linespacing=1.3)
note(651, 788, "Gros et al. (CD279\u207a)", size=6.9, ha="left", color="#222222")
note(651, 809, "Wang et al. (CD103\u207a)", size=6.9, ha="left", color="#222222")

# panel letters
for letter, x, y in [("A", 13, 8), ("B", 383, 11), ("C", 381, 188), ("D", 573, 9), ("E", 11, 344), ("F", 14, 646),
                     ("G", 278, 406), ("H", 281, 666), ("I", 463, 408), ("J", 459, 692)]:
    note(x, y, letter, size=13, weight="bold", color="black")

for ax, xl, yl in axis_limits:
    ax.set_xlim(xl)
    ax.set_ylim(yl)

fig.savefig("out.png", dpi=100)
